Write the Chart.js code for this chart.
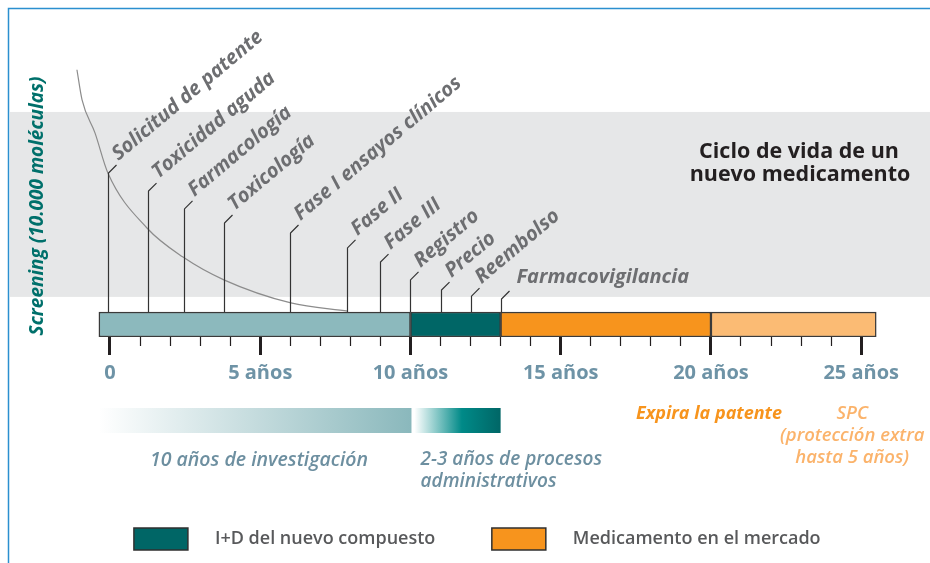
<!DOCTYPE html>
<html>
<head>
<meta charset="utf-8">
<script src="https://cdn.jsdelivr.net/npm/chart.js@4"></script>
<style>
  html, body { margin: 0; padding: 0; background: #fff; }
  #wrap { width: 930px; height: 563px; }
</style>
</head>
<body>
<div id="wrap"><canvas id="ciclo" width="930" height="563"></canvas></div>
<script>
// fases de la barra (años)
const fases = ['Investigación', 'Procesos administrativos', 'Medicamento en el mercado', 'SPC'];
const inicioFase = [-0.37, 10, 13, 20];
const finFase = [10, 13, 20, 25.5];
const colorFase = ['#8cb9bd', '#006666', '#f7941d', '#fbbb74'];
const filaBarra = 4.77;

// marcas del eje de años
const aniosMarcados = [0, 5, 10, 15, 20, 25];
const etiquetasAnios = ['0', '5 años', '10 años', '15 años', '20 años', '25 años'];

// hitos: año y altura (nivel) de la línea guía
const hitosNombre = ['Solicitud de patente', 'Toxicidad aguda', 'Farmacología', 'Toxicología',
  'Fase I ensayos clínicos', 'Fase II', 'Fase III', 'Registro', 'Precio', 'Reembolso', 'Farmacovigilancia'];
const hitosAnio = [-0.05, 1.25, 2.45, 3.8, 6, 7.9, 9, 10, 11, 12, 13];
const hitosNivel = [62.6, 55.7, 48.9, 43.5, 39.7, 34.0, 28.6, 21.8, 17.9, 15.6, 14.5];

// curva de screening (10.000 moléculas)
const curvaAnios = [-1.1, -0.93, -0.5, -0.07, 1.23, 2.43, 3.79, 6.02, 7.92];
const curvaNivel = [102, 90.5, 77.9, 62.6, 41.6, 30.5, 21.8, 13.0, 9.9];

// banda gris de screening
const bandaNivel = [15.3, 85.9];

Chart.defaults.font.family = "'Open Sans', sans-serif";

const decor = {
  id: 'decor',
  beforeDraw(chart) {
    const {ctx, scales: {y}} = chart;
    ctx.save();
    ctx.fillStyle = '#fff';
    ctx.fillRect(0, 0, chart.width, chart.height);
    const yTop = y.getPixelForValue(bandaNivel[1]), yBot = y.getPixelForValue(bandaNivel[0]);
    ctx.fillStyle = '#e6e7e8';
    ctx.fillRect(10, yTop, chart.width - 10, yBot - yTop);
    ctx.strokeStyle = '#2b8fcf';
    ctx.lineWidth = 1.5;
    ctx.beginPath();
    ctx.moveTo(8.5, chart.height);
    ctx.lineTo(8.5, 8.5);
    ctx.lineTo(chart.width, 8.5);
    ctx.stroke();
    ctx.restore();
  },
  afterDatasetsDraw(chart) {
    const {ctx, scales: {x, y}} = chart;
    const barra = chart.getDatasetMeta(0).data[0];
    const barTop = barra.y - barra.height / 2;
    ctx.save();

    // líneas guía y nombres de los hitos
    ctx.strokeStyle = '#333';
    ctx.lineWidth = 1.2;
    ctx.fillStyle = '#6d6e71';
    ctx.font = "italic bold 20px 'Open Sans'";
    ctx.textAlign = 'left';
    ctx.textBaseline = 'alphabetic';
    hitosNombre.forEach((nombre, i) => {
      const px = Math.round(x.getPixelForValue(hitosAnio[i])) + 0.5;
      const top = y.getPixelForValue(hitosNivel[i]);
      const ultimo = i === hitosNombre.length - 1;
      ctx.beginPath();
      ctx.moveTo(px, barTop);
      ctx.lineTo(px, top);
      ctx.lineTo(px + 8, top - 8);
      ctx.stroke();
      ctx.save();
      if (ultimo) {
        ctx.translate(px + 15, top - 16);
      } else {
        ctx.translate(px + 10, top - 12);
        ctx.rotate(-40 * Math.PI / 180);
      }
      ctx.fillText(nombre, 0, 0);
      ctx.restore();
    });

    // título
    ctx.fillStyle = '#231f20';
    ctx.font = "bold 21.5px 'Open Sans'";
    ctx.textAlign = 'center';
    ctx.textBaseline = 'middle';
    ctx.fillText('Ciclo de vida de un', 799, 152);
    ctx.fillText('nuevo medicamento', 800, 175);

    // barras degradadas bajo el eje
    const gy = 408, gh = 25;
    const a0 = x.getPixelForValue(inicioFase[0]), a1 = x.getPixelForValue(finFase[0]) + 1;
    let g = ctx.createLinearGradient(a0, 0, a1, 0);
    g.addColorStop(0, '#ffffff');
    g.addColorStop(1, '#8ab8bc');
    ctx.fillStyle = g;
    ctx.fillRect(a0, gy, a1 - a0, gh);
    const b0 = x.getPixelForValue(inicioFase[1]) + 4, b1 = x.getPixelForValue(finFase[1]);
    g = ctx.createLinearGradient(b0, 0, b1, 0);
    g.addColorStop(0, '#ffffff');
    g.addColorStop(0.55, '#008a88');
    g.addColorStop(1, '#006666');
    ctx.fillStyle = g;
    ctx.fillRect(b0, gy, b1 - b0, gh);

    ctx.textBaseline = 'middle';
    ctx.fillStyle = '#6d8fa0';
    ctx.font = "italic 600 19.5px 'Open Sans'";
    ctx.textAlign = 'center';
    ctx.fillText('10 años de investigación', 259, 460);
    ctx.textAlign = 'left';
    ctx.font = "italic 600 19px 'Open Sans'";
    ctx.fillText('2-3 años de procesos', b0 + 6, 460);
    ctx.fillText('administrativos', b0 + 6, 482);

    ctx.textAlign = 'center';
    ctx.fillStyle = '#f7941d';
    ctx.font = "italic bold 18px 'Open Sans'";
    ctx.fillText('Expira la patente', x.getPixelForValue(finFase[2]) - 2, 414);
    ctx.fillStyle = '#fbb36b';
    ctx.font = "italic 600 18.5px 'Open Sans'";
    const sx = x.getPixelForValue(finFase[3]) - 24;
    ctx.fillText('SPC', sx, 414);
    ctx.fillText('(protección extra', sx, 436);
    ctx.fillText('hasta 5 años)', sx, 458);
    ctx.restore();
  }
};

const enRango = v => v >= 0 && v <= 25;

const ctx = document.getElementById('ciclo').getContext('2d');
new Chart(ctx, {
  type: 'bar',
  data: {
    datasets: [{
      label: 'I+D del nuevo compuesto',
      indexAxis: 'y',
      grouped: false,
      data: [0, 1].map(i => ({x: [inicioFase[i], finFase[i]], y: filaBarra})),
      backgroundColor: [colorFase[0], colorFase[1]],
      borderColor: '#3a3a3a',
      borderWidth: 1.5,
      borderSkipped: false,
      barThickness: 25
    }, {
      label: 'Medicamento en el mercado',
      indexAxis: 'y',
      grouped: false,
      data: [2, 3].map(i => ({x: [inicioFase[i], finFase[i]], y: filaBarra})),
      backgroundColor: [colorFase[2], colorFase[3]],
      borderColor: '#3a3a3a',
      borderWidth: 1.5,
      borderSkipped: false,
      barThickness: 25
    }, {
      type: 'line',
      label: 'Screening',
      data: curvaAnios.map((a, i) => ({x: a, y: curvaNivel[i]})),
      borderColor: '#8c8c8c',
      borderWidth: 1.2,
      pointRadius: 0,
      cubicInterpolationMode: 'monotone',
      clip: false
    }]
  },
  options: {
    responsive: false,
    animation: false,
    layout: { padding: { left: 24.5, right: 0, top: 75, bottom: 3 } },
    scales: {
      x: {
        type: 'linear',
        offset: false,
        min: -1.2,
        max: 27.29,
        grid: {
          offset: false,
          drawOnChartArea: false,
          tickLength: 18,
          tickColor: c => enRango(c.tick.value) ? '#231f20' : 'rgba(0,0,0,0)',
          tickWidth: c => aniosMarcados.includes(c.tick.value) ? 3 : 1.2,
          tickBorderDash: c => aniosMarcados.includes(c.tick.value) ? [] : [9, 40]
        },
        border: { display: false },
        ticks: {
          stepSize: 1,
          includeBounds: false,
          autoSkip: false,
          maxRotation: 0,
          padding: 6,
          color: '#6e93a6',
          font: { size: 20, weight: 'bold' },
          callback: v => {
            const k = aniosMarcados.indexOf(v);
            return k >= 0 ? etiquetasAnios[k] : '';
          }
        },
        afterFit: s => { s.height = 134.5; }
      },
      y: {
        type: 'linear',
        position: 'left',
        offset: false,
        min: 0,
        max: 100,
        grid: { display: false },
        border: { display: false },
        ticks: { display: false },
        title: {
          display: true,
          text: 'Screening (10.000 moléculas)',
          color: '#00706b',
          font: { size: 19, weight: 'bold', style: 'italic' },
          padding: { top: 2, bottom: 0 }
        },
        afterFit: s => { s.width = 49.44; }
      }
    },
    plugins: {
      tooltip: { enabled: false },
      legend: {
        position: 'bottom',
        align: 'center',
        labels: {
          boxWidth: 54,
          boxHeight: 22,
          padding: 56.5,
          color: '#58595b',
          font: { size: 18, weight: '600' },
          generateLabels: () => [
            { text: '\u2003I+D del nuevo compuesto', fillStyle: '#006666', strokeStyle: '#2f2f2f', lineWidth: 1.5, fontColor: '#58595b', hidden: false, datasetIndex: 0 },
            { text: '\u2003Medicamento en el mercado', fillStyle: '#f7941d', strokeStyle: '#2f2f2f', lineWidth: 1.5, fontColor: '#58595b', hidden: false, datasetIndex: 1 }
          ]
        }
      }
    }
  },
  plugins: [decor]
});
</script>
</body>
</html>
